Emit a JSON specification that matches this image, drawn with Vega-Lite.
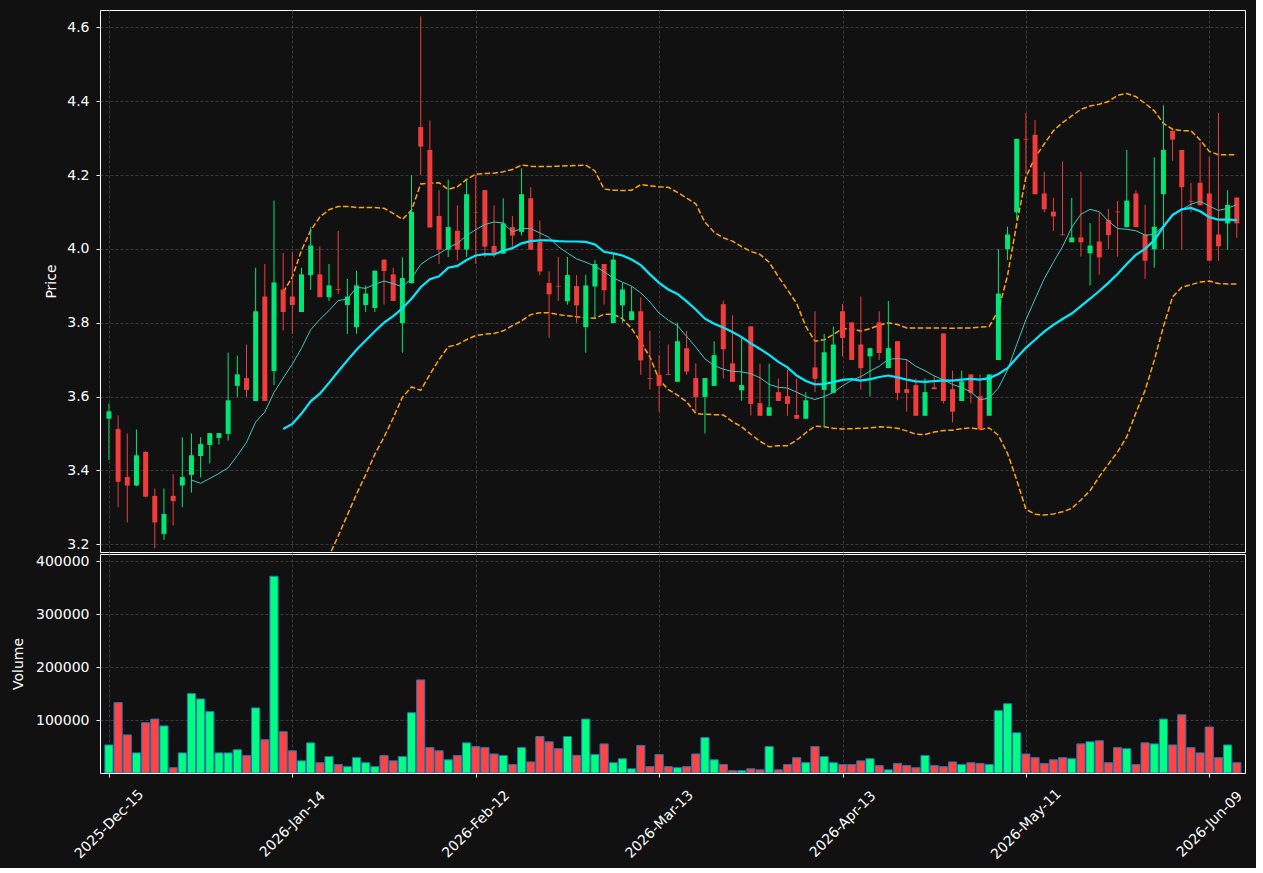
{
  "$schema": "https://vega.github.io/schema/vega-lite/v6.json",
  "background": "#111111",
  "padding": {"left": 11, "top": 9, "right": 10, "bottom": 5},
  "spacing": 0,
  "config": {
    "view": {"stroke": "#ffffff", "strokeWidth": 1, "fill": "#111111"},
    "axis": {"labelColor": "#ffffff", "titleColor": "#ffffff", "labelFont": "DejaVu Sans", "titleFont": "DejaVu Sans", "labelFontSize": 14, "titleFontSize": 14, "titleFontWeight": "normal", "tickColor": "#ffffff", "domain": false, "gridColor": "#444444", "gridDash": [3, 2], "gridWidth": 0.8, "tickSize": 4, "labelPadding": 7}
  },
  "data": {"values": [
{"i":0,"o":3.540,"h":3.581,"l":3.428,"c":3.560,"v":53000},
{"i":1,"o":3.512,"h":3.549,"l":3.300,"c":3.369,"v":133000},
{"i":2,"o":3.382,"h":3.500,"l":3.259,"c":3.359,"v":72000},
{"i":3,"o":3.359,"h":3.511,"l":3.357,"c":3.441,"v":38000},
{"i":4,"o":3.450,"h":3.452,"l":3.327,"c":3.329,"v":95000},
{"i":5,"o":3.331,"h":3.351,"l":3.189,"c":3.259,"v":102000},
{"i":6,"o":3.228,"h":3.351,"l":3.212,"c":3.282,"v":89000},
{"i":7,"o":3.331,"h":3.390,"l":3.251,"c":3.317,"v":10000},
{"i":8,"o":3.359,"h":3.490,"l":3.300,"c":3.382,"v":38000},
{"i":9,"o":3.388,"h":3.500,"l":3.340,"c":3.441,"v":150000,"m10":3.374},
{"i":10,"o":3.439,"h":3.490,"l":3.381,"c":3.471,"v":140000,"m10":3.365},
{"i":11,"o":3.469,"h":3.501,"l":3.419,"c":3.501,"v":116000,"m10":3.378},
{"i":12,"o":3.488,"h":3.501,"l":3.470,"c":3.501,"v":38000,"m10":3.392},
{"i":13,"o":3.499,"h":3.719,"l":3.481,"c":3.590,"v":38000,"m10":3.407},
{"i":14,"o":3.629,"h":3.711,"l":3.599,"c":3.660,"v":44000,"m10":3.440},
{"i":15,"o":3.650,"h":3.741,"l":3.599,"c":3.618,"v":33000,"m10":3.476},
{"i":16,"o":3.588,"h":3.949,"l":3.588,"c":3.831,"v":123000,"m10":3.531},
{"i":17,"o":3.871,"h":3.959,"l":3.588,"c":3.588,"v":63000,"m10":3.558},
{"i":18,"o":3.669,"h":4.131,"l":3.631,"c":3.909,"v":372000,"m10":3.611},
{"i":19,"o":3.890,"h":3.989,"l":3.779,"c":3.829,"v":78000,"m10":3.650,"m20":3.512,"bu":3.882,"bl":3.142},
{"i":20,"o":3.871,"h":3.991,"l":3.770,"c":3.848,"v":42000,"m10":3.688,"m20":3.526,"bu":3.924,"bl":3.128},
{"i":21,"o":3.829,"h":3.949,"l":3.829,"c":3.931,"v":23000,"m10":3.731,"m20":3.554,"bu":3.996,"bl":3.112},
{"i":22,"o":3.929,"h":4.059,"l":3.889,"c":4.009,"v":57000,"m10":3.781,"m20":3.587,"bu":4.050,"bl":3.124},
{"i":23,"o":3.931,"h":4.007,"l":3.869,"c":3.869,"v":19500,"m10":3.809,"m20":3.608,"bu":4.086,"bl":3.130},
{"i":24,"o":3.869,"h":3.959,"l":3.859,"c":3.901,"v":31000,"m10":3.833,"m20":3.637,"bu":4.106,"bl":3.168},
{"i":25,"o":3.891,"h":4.049,"l":3.878,"c":3.889,"v":16000,"m10":3.860,"m20":3.668,"bu":4.115,"bl":3.222},
{"i":26,"o":3.848,"h":3.919,"l":3.770,"c":3.871,"v":12000,"m10":3.864,"m20":3.698,"bu":4.115,"bl":3.279},
{"i":27,"o":3.788,"h":3.941,"l":3.770,"c":3.901,"v":29000,"m10":3.896,"m20":3.727,"bu":4.112,"bl":3.336},
{"i":28,"o":3.848,"h":3.901,"l":3.829,"c":3.879,"v":19500,"m10":3.893,"m20":3.752,"bu":4.112,"bl":3.388},
{"i":29,"o":3.840,"h":3.941,"l":3.829,"c":3.941,"v":12000,"m10":3.904,"m20":3.777,"bu":4.112,"bl":3.444},
{"i":30,"o":3.971,"h":3.971,"l":3.849,"c":3.940,"v":33000,"m10":3.913,"m20":3.800,"bu":4.110,"bl":3.490},
{"i":31,"o":3.931,"h":3.949,"l":3.859,"c":3.859,"v":23000,"m10":3.906,"m20":3.818,"bu":4.096,"bl":3.542},
{"i":32,"o":3.799,"h":3.977,"l":3.719,"c":3.921,"v":31000,"m10":3.897,"m20":3.839,"bu":4.080,"bl":3.598},
{"i":33,"o":3.907,"h":4.199,"l":3.907,"c":4.100,"v":114000,"m10":3.920,"m20":3.865,"bu":4.105,"bl":3.626},
{"i":34,"o":4.330,"h":4.630,"l":4.200,"c":4.277,"v":176000,"m10":3.958,"m20":3.896,"bu":4.176,"bl":3.617},
{"i":35,"o":4.268,"h":4.348,"l":4.058,"c":4.058,"v":48000,"m10":3.975,"m20":3.918,"bu":4.178,"bl":3.660},
{"i":36,"o":4.089,"h":4.159,"l":3.959,"c":3.998,"v":42000,"m10":3.987,"m20":3.926,"bu":4.179,"bl":3.700},
{"i":37,"o":3.998,"h":4.188,"l":3.978,"c":4.059,"v":25000,"m10":4.003,"m20":3.949,"bu":4.161,"bl":3.735},
{"i":38,"o":4.049,"h":4.118,"l":3.969,"c":3.998,"v":33000,"m10":4.015,"m20":3.954,"bu":4.168,"bl":3.741},
{"i":39,"o":3.998,"h":4.188,"l":3.978,"c":4.148,"v":57000,"m10":4.036,"m20":3.970,"bu":4.188,"bl":3.754},
{"i":40,"o":4.099,"h":4.200,"l":3.959,"c":4.098,"v":50000,"m10":4.052,"m20":3.982,"bu":4.202,"bl":3.765},
{"i":41,"o":4.159,"h":4.159,"l":3.977,"c":4.006,"v":48000,"m10":4.066,"m20":3.986,"bu":4.204,"bl":3.769},
{"i":42,"o":4.008,"h":4.118,"l":3.977,"c":3.988,"v":36000,"m10":4.073,"m20":3.985,"bu":4.205,"bl":3.771},
{"i":43,"o":3.987,"h":4.137,"l":3.987,"c":4.069,"v":33000,"m10":4.070,"m20":3.995,"bu":4.209,"bl":3.778},
{"i":44,"o":4.059,"h":4.089,"l":4.006,"c":4.036,"v":16000,"m10":4.046,"m20":4.002,"bu":4.215,"bl":3.792},
{"i":45,"o":4.046,"h":4.218,"l":4.036,"c":4.148,"v":48000,"m10":4.055,"m20":4.015,"bu":4.227,"bl":3.805},
{"i":46,"o":4.137,"h":4.167,"l":3.998,"c":3.998,"v":21000,"m10":4.055,"m20":4.021,"bu":4.224,"bl":3.822},
{"i":47,"o":4.019,"h":4.077,"l":3.929,"c":3.939,"v":69000,"m10":4.043,"m20":4.023,"bu":4.223,"bl":3.827},
{"i":48,"o":3.908,"h":3.939,"l":3.759,"c":3.877,"v":59000,"m10":4.031,"m20":4.023,"bu":4.223,"bl":3.827},
{"i":49,"o":3.900,"h":3.978,"l":3.859,"c":3.898,"v":46000,"m10":4.006,"m20":4.021,"bu":4.224,"bl":3.822},
{"i":50,"o":3.858,"h":3.978,"l":3.849,"c":3.929,"v":69000,"m10":3.989,"m20":4.020,"bu":4.225,"bl":3.819},
{"i":51,"o":3.899,"h":3.929,"l":3.800,"c":3.847,"v":33000,"m10":3.973,"m20":4.020,"bu":4.226,"bl":3.816},
{"i":52,"o":3.788,"h":3.930,"l":3.719,"c":3.901,"v":102000,"m10":3.964,"m20":4.019,"bu":4.227,"bl":3.813},
{"i":53,"o":3.898,"h":3.970,"l":3.813,"c":3.959,"v":35000,"m10":3.953,"m20":4.012,"bu":4.211,"bl":3.812},
{"i":54,"o":3.959,"h":3.959,"l":3.849,"c":3.888,"v":55000,"m10":3.938,"m20":3.992,"bu":4.162,"bl":3.823},
{"i":55,"o":3.799,"h":3.986,"l":3.799,"c":3.971,"v":19500,"m10":3.921,"m20":3.988,"bu":4.159,"bl":3.823},
{"i":56,"o":3.847,"h":3.908,"l":3.800,"c":3.890,"v":27000,"m10":3.910,"m20":3.982,"bu":4.158,"bl":3.811},
{"i":57,"o":3.807,"h":3.898,"l":3.807,"c":3.831,"v":8000,"m10":3.899,"m20":3.971,"bu":4.159,"bl":3.784},
{"i":58,"o":3.831,"h":3.869,"l":3.659,"c":3.698,"v":52000,"m10":3.881,"m20":3.956,"bu":4.174,"bl":3.748},
{"i":59,"o":3.650,"h":3.778,"l":3.619,"c":3.648,"v":12000,"m10":3.856,"m20":3.931,"bu":4.171,"bl":3.707},
{"i":60,"o":3.659,"h":3.712,"l":3.559,"c":3.629,"v":35000,"m10":3.826,"m20":3.908,"bu":4.168,"bl":3.646},
{"i":61,"o":3.661,"h":3.741,"l":3.659,"c":3.659,"v":12000,"m10":3.807,"m20":3.890,"bu":4.167,"bl":3.619},
{"i":62,"o":3.640,"h":3.800,"l":3.640,"c":3.750,"v":10000,"m10":3.792,"m20":3.878,"bu":4.153,"bl":3.604},
{"i":63,"o":3.731,"h":3.778,"l":3.659,"c":3.668,"v":12000,"m10":3.763,"m20":3.858,"bu":4.138,"bl":3.586},
{"i":64,"o":3.650,"h":3.690,"l":3.559,"c":3.599,"v":36000,"m10":3.734,"m20":3.836,"bu":4.122,"bl":3.554},
{"i":65,"o":3.599,"h":3.650,"l":3.500,"c":3.650,"v":67000,"m10":3.702,"m20":3.811,"bu":4.072,"bl":3.552},
{"i":66,"o":3.629,"h":3.750,"l":3.629,"c":3.712,"v":25000,"m10":3.684,"m20":3.797,"bu":4.045,"bl":3.551},
{"i":67,"o":3.850,"h":3.860,"l":3.649,"c":3.728,"v":16000,"m10":3.674,"m20":3.787,"bu":4.030,"bl":3.550},
{"i":68,"o":3.690,"h":3.820,"l":3.640,"c":3.640,"v":4400,"m10":3.668,"m20":3.775,"bu":4.021,"bl":3.532},
{"i":69,"o":3.617,"h":3.760,"l":3.589,"c":3.631,"v":4400,"m10":3.667,"m20":3.761,"bu":4.006,"bl":3.518},
{"i":70,"o":3.790,"h":3.790,"l":3.549,"c":3.580,"v":8000,"m10":3.662,"m20":3.744,"bu":3.993,"bl":3.498},
{"i":71,"o":3.582,"h":3.689,"l":3.548,"c":3.548,"v":6000,"m10":3.651,"m20":3.729,"bu":3.985,"bl":3.479},
{"i":72,"o":3.548,"h":3.689,"l":3.548,"c":3.571,"v":50000,"m10":3.633,"m20":3.713,"bu":3.964,"bl":3.464},
{"i":73,"o":3.612,"h":3.649,"l":3.588,"c":3.588,"v":6000,"m10":3.625,"m20":3.694,"bu":3.925,"bl":3.467},
{"i":74,"o":3.601,"h":3.673,"l":3.548,"c":3.580,"v":16000,"m10":3.623,"m20":3.679,"bu":3.889,"bl":3.467},
{"i":75,"o":3.550,"h":3.649,"l":3.540,"c":3.540,"v":29000,"m10":3.612,"m20":3.657,"bu":3.852,"bl":3.482},
{"i":76,"o":3.540,"h":3.612,"l":3.540,"c":3.590,"v":19500,"m10":3.600,"m20":3.642,"bu":3.790,"bl":3.502},
{"i":77,"o":3.679,"h":3.831,"l":3.612,"c":3.648,"v":50000,"m10":3.592,"m20":3.633,"bu":3.750,"bl":3.520},
{"i":78,"o":3.618,"h":3.770,"l":3.518,"c":3.720,"v":31000,"m10":3.600,"m20":3.634,"bu":3.754,"bl":3.518},
{"i":79,"o":3.610,"h":3.789,"l":3.610,"c":3.741,"v":19500,"m10":3.611,"m20":3.639,"bu":3.768,"bl":3.514},
{"i":80,"o":3.831,"h":3.851,"l":3.709,"c":3.759,"v":16000,"m10":3.629,"m20":3.645,"bu":3.784,"bl":3.512},
{"i":81,"o":3.801,"h":3.801,"l":3.699,"c":3.699,"v":16000,"m10":3.644,"m20":3.647,"bu":3.784,"bl":3.513},
{"i":82,"o":3.741,"h":3.871,"l":3.619,"c":3.677,"v":23000,"m10":3.654,"m20":3.643,"bu":3.777,"bl":3.514},
{"i":83,"o":3.709,"h":3.731,"l":3.600,"c":3.731,"v":27000,"m10":3.669,"m20":3.647,"bu":3.784,"bl":3.515},
{"i":84,"o":3.801,"h":3.831,"l":3.699,"c":3.718,"v":14000,"m10":3.682,"m20":3.653,"bu":3.793,"bl":3.518},
{"i":85,"o":3.677,"h":3.859,"l":3.677,"c":3.731,"v":6000,"m10":3.701,"m20":3.657,"bu":3.800,"bl":3.517},
{"i":86,"o":3.750,"h":3.750,"l":3.590,"c":3.610,"v":18000,"m10":3.703,"m20":3.652,"bu":3.795,"bl":3.514},
{"i":87,"o":3.620,"h":3.701,"l":3.559,"c":3.610,"v":14000,"m10":3.700,"m20":3.646,"bu":3.786,"bl":3.507},
{"i":88,"o":3.631,"h":3.649,"l":3.548,"c":3.548,"v":10000,"m10":3.682,"m20":3.641,"bu":3.786,"bl":3.498},
{"i":89,"o":3.548,"h":3.649,"l":3.548,"c":3.612,"v":33000,"m10":3.670,"m20":3.640,"bu":3.786,"bl":3.497},
{"i":90,"o":3.625,"h":3.657,"l":3.620,"c":3.620,"v":14000,"m10":3.656,"m20":3.642,"bu":3.786,"bl":3.504},
{"i":91,"o":3.771,"h":3.771,"l":3.581,"c":3.588,"v":12000,"m10":3.645,"m20":3.644,"bu":3.786,"bl":3.508},
{"i":92,"o":3.620,"h":3.670,"l":3.530,"c":3.559,"v":21000,"m10":3.633,"m20":3.643,"bu":3.785,"bl":3.509},
{"i":93,"o":3.588,"h":3.670,"l":3.588,"c":3.641,"v":16000,"m10":3.624,"m20":3.646,"bu":3.786,"bl":3.513},
{"i":94,"o":3.660,"h":3.660,"l":3.581,"c":3.610,"v":19500,"m10":3.613,"m20":3.648,"bu":3.786,"bl":3.515},
{"i":95,"o":3.601,"h":3.660,"l":3.511,"c":3.511,"v":18000,"m10":3.591,"m20":3.646,"bu":3.788,"bl":3.511},
{"i":96,"o":3.548,"h":3.660,"l":3.548,"c":3.660,"v":16000,"m10":3.596,"m20":3.650,"bu":3.790,"bl":3.515},
{"i":97,"o":3.699,"h":4.000,"l":3.699,"c":3.879,"v":118000,"m10":3.623,"m20":3.661,"bu":3.833,"bl":3.495},
{"i":98,"o":3.999,"h":4.060,"l":3.970,"c":4.039,"v":131000,"m10":3.672,"m20":3.677,"bu":3.928,"bl":3.446},
{"i":99,"o":4.099,"h":4.298,"l":4.078,"c":4.298,"v":76000,"m10":3.741,"m20":3.705,"bu":4.068,"bl":3.374},
{"i":100,"o":4.298,"h":4.368,"l":4.203,"c":4.296,"v":36000,"m10":3.808,"m20":3.732,"bu":4.194,"bl":3.295},
{"i":101,"o":4.309,"h":4.349,"l":4.148,"c":4.148,"v":29000,"m10":3.864,"m20":3.754,"bu":4.248,"bl":3.281},
{"i":102,"o":4.150,"h":4.209,"l":4.099,"c":4.107,"v":18000,"m10":3.919,"m20":3.776,"bu":4.284,"bl":3.279},
{"i":103,"o":4.101,"h":4.138,"l":4.049,"c":4.088,"v":25000,"m10":3.964,"m20":3.794,"bu":4.320,"bl":3.282},
{"i":104,"o":4.039,"h":4.237,"l":4.037,"c":4.037,"v":29000,"m10":4.006,"m20":3.810,"bu":4.342,"bl":3.288},
{"i":105,"o":4.018,"h":4.138,"l":4.018,"c":4.031,"v":27000,"m10":4.058,"m20":3.825,"bu":4.360,"bl":3.297},
{"i":106,"o":4.031,"h":4.209,"l":3.979,"c":4.018,"v":55000,"m10":4.094,"m20":3.845,"bu":4.378,"bl":3.320},
{"i":107,"o":3.988,"h":4.070,"l":3.901,"c":4.009,"v":59000,"m10":4.107,"m20":3.865,"bu":4.387,"bl":3.345},
{"i":108,"o":4.020,"h":4.099,"l":3.930,"c":3.977,"v":61000,"m10":4.101,"m20":3.886,"bu":4.392,"bl":3.383},
{"i":109,"o":4.078,"h":4.108,"l":4.000,"c":4.037,"v":19500,"m10":4.075,"m20":3.908,"bu":4.399,"bl":3.417},
{"i":110,"o":4.101,"h":4.130,"l":3.979,"c":4.099,"v":48000,"m10":4.055,"m20":3.932,"bu":4.416,"bl":3.450},
{"i":111,"o":4.059,"h":4.268,"l":4.059,"c":4.131,"v":46000,"m10":4.053,"m20":3.959,"bu":4.421,"bl":3.491},
{"i":112,"o":4.150,"h":4.159,"l":4.059,"c":4.059,"v":16000,"m10":4.049,"m20":3.984,"bu":4.412,"bl":3.556},
{"i":113,"o":4.039,"h":4.119,"l":3.919,"c":3.968,"v":57000,"m10":4.037,"m20":4.000,"bu":4.394,"bl":3.617},
{"i":114,"o":3.999,"h":4.248,"l":3.949,"c":4.060,"v":55000,"m10":4.039,"m20":4.023,"bu":4.374,"bl":3.698},
{"i":115,"o":4.148,"h":4.389,"l":3.999,"c":4.268,"v":102000,"m10":4.063,"m20":4.060,"bu":4.340,"bl":3.790},
{"i":116,"o":4.320,"h":4.320,"l":4.239,"c":4.296,"v":53000,"m10":4.090,"m20":4.092,"bu":4.324,"bl":3.870},
{"i":117,"o":4.268,"h":4.268,"l":3.999,"c":4.167,"v":110000,"m10":4.106,"m20":4.107,"bu":4.320,"bl":3.896},
{"i":118,"o":4.130,"h":4.179,"l":4.099,"c":4.128,"v":48000,"m10":4.121,"m20":4.111,"bu":4.320,"bl":3.903},
{"i":119,"o":4.179,"h":4.289,"l":4.118,"c":4.118,"v":38000,"m10":4.129,"m20":4.102,"bu":4.295,"bl":3.910},
{"i":120,"o":4.150,"h":4.250,"l":3.968,"c":3.968,"v":87000,"m10":4.116,"m20":4.086,"bu":4.264,"bl":3.913},
{"i":121,"o":4.039,"h":4.368,"l":3.968,"c":4.007,"v":29000,"m10":4.104,"m20":4.079,"bu":4.255,"bl":3.906},
{"i":122,"o":4.069,"h":4.159,"l":3.999,"c":4.119,"v":53000,"m10":4.110,"m20":4.079,"bu":4.255,"bl":3.905},
{"i":123,"o":4.139,"h":4.139,"l":4.030,"c":4.069,"v":19500,"m10":4.120,"m20":4.078,"bu":4.255,"bl":3.905}
  ]},
  "vconcat": [
    {
      "width": 1145,
      "height": 542,
      "encoding": {
        "x": {"field": "i", "type": "quantitative", "title": null,
              "scale": {"domain": [-0.43, 123.35], "nice": false, "zero": false},
              "axis": {"values": [0, 20, 40, 60, 80, 100, 120], "labels": false, "ticks": false, "grid": true}}
      },
      "layer": [
        {
          "mark": {"type": "line", "color": "#ffa500", "strokeWidth": 1.5, "strokeDash": [5.5, 2.4], "clip": true},
          "encoding": {"y": {"field": "bu", "type": "quantitative", "title": "Price",
                             "scale": {"domain": [3.179, 4.647], "nice": false, "zero": false},
                             "axis": {"values": [3.2, 3.4, 3.6, 3.8, 4.0, 4.2, 4.4, 4.6], "format": ".1f", "grid": true, "titlePadding": 8}}}
        },
        {
          "mark": {"type": "line", "color": "#ffa500", "strokeWidth": 1.5, "strokeDash": [5.5, 2.4], "clip": true},
          "encoding": {"y": {"field": "bl", "type": "quantitative", "title": "Price"}}
        },
        {
          "mark": {"type": "rule", "strokeWidth": 1, "clip": true},
          "encoding": {
            "y": {"field": "l", "type": "quantitative", "title": "Price"},
            "y2": {"field": "h"},
            "color": {"condition": {"test": "datum.c >= datum.o", "value": "#00e676"}, "value": "#f23c3c"}
          }
        },
        {
          "mark": {"type": "bar", "width": 5, "clip": true},
          "encoding": {
            "y": {"field": "o", "type": "quantitative", "title": "Price"},
            "y2": {"field": "c"},
            "color": {"condition": {"test": "datum.c >= datum.o", "value": "#00e676"}, "value": "#f23c3c"}
          }
        },
        {
          "mark": {"type": "line", "color": "#3cc8c0", "strokeWidth": 1, "clip": true},
          "encoding": {"y": {"field": "m10", "type": "quantitative", "title": "Price"}}
        },
        {
          "mark": {"type": "line", "color": "#00eaff", "strokeWidth": 2.2, "clip": true},
          "encoding": {"y": {"field": "m20", "type": "quantitative", "title": "Price"}}
        }
      ]
    },
    {
      "width": 1145,
      "height": 219,
      "mark": {"type": "bar", "width": 8.2, "stroke": "#1f77b4", "strokeWidth": 1, "clip": true},
      "encoding": {
        "x": {"field": "i", "type": "quantitative", "title": null,
              "scale": {"domain": [-0.43, 123.35], "nice": false, "zero": false},
              "axis": {"values": [0, 20, 40, 60, 80, 100, 120], "grid": true, "labelAngle": -45, "labelAlign": "center", "labelBaseline": "middle", "labelPadding": 47, "labelFlush": false, "labelOverlap": false,
                       "labelExpr": "['2025-Dec-15','2026-Jan-14','2026-Feb-12','2026-Mar-13','2026-Apr-13','2026-May-11','2026-Jun-09'][round(datum.value/20)]"}},
        "y": {"field": "v", "type": "quantitative", "title": "Volume",
              "scale": {"domain": [0, 414000], "nice": false},
              "axis": {"values": [100000, 200000, 300000, 400000], "format": "d", "grid": true, "titlePadding": 10}},
        "fill": {"condition": {"test": "datum.c >= datum.o", "value": "#00ff80"}, "value": "#ff4444"}
      }
    }
  ]
}
